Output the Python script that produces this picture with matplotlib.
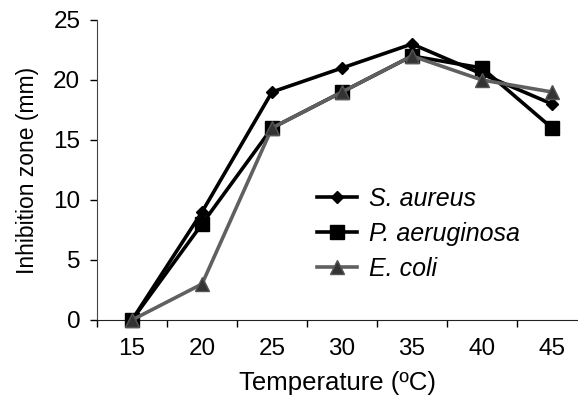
import numpy as np
import matplotlib
matplotlib.use("Agg")
import matplotlib.pyplot as plt

plt.rcParams.update({
    "font.family": ["Liberation Sans", "DejaVu Sans"],
    "font.size": 17,
})

temps = ["15", "20", "25", "30", "35", "40", "45"]
s_aureus = [0, 9, 19, 21, 23, 20.5, 18]
p_aeruginosa = [0, 8, 16, 19, 22, 21, 16]
e_coli = [0, 3, 16, 19, 22, 20, 19]

fig = plt.figure(figsize=(5.78, 4.0), dpi=100)
ax = fig.add_axes([97 / 578, 80 / 400, 1 - 97 / 578, 300 / 400])

x = np.arange(len(temps))
ax.plot(x, s_aureus, "-D", color="black", lw=2.6, ms=6, mfc="black",
        mec="black", label="S. aureus", clip_on=False, zorder=3)
ax.plot(x, p_aeruginosa, "-s", color="black", lw=2.6, ms=10.5, mfc="black",
        mec="black", label="P. aeruginosa", clip_on=False, zorder=3)
ax.plot(x, e_coli, "-^", color="#606060", lw=2.6, ms=10, mfc="#333333",
        mec="#555555", label="E. coli", clip_on=False, zorder=3)

ax.set_xlim(-0.5, (578 - 132) / 70)
ax.set_ylim(0, 25)
ax.set_yticks(np.arange(0, 26, 5))
ax.set_xticks(x)
ax.set_xticklabels(temps)
ax.set_xticks(np.arange(-0.5, len(temps) - 0.5, 1.0), minor=True)
ax.tick_params(axis="x", which="major", length=0, pad=13, labelsize=17.5)
ax.tick_params(axis="x", which="minor", length=5, width=1, direction="out")
ax.tick_params(axis="y", length=5, width=1, direction="out", pad=7,
               labelsize=17.5)
for side in ("top", "right"):
    ax.spines[side].set_visible(False)
ax.spines["left"].set_color("#444444")
ax.spines["bottom"].set_color("#222222")

ax.set_xlabel("Temperature (ºC)", fontsize=18.5, labelpad=8)
ax.set_ylabel("Inhibition zone (mm)", fontsize=16.5, labelpad=10)

leg = ax.legend(loc="upper left", bbox_to_anchor=(0.41, 0.52),
                frameon=False, prop={"style": "italic", "size": 18},
                handlelength=1.6, labelspacing=0.45, handletextpad=0.5)

fig.savefig("out.png")
